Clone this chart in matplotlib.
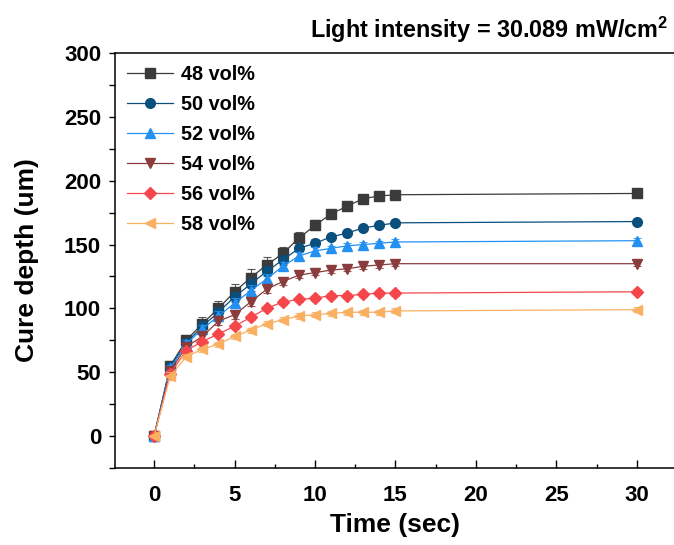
import matplotlib
matplotlib.use("Agg")
import matplotlib.pyplot as plt
from matplotlib.ticker import MultipleLocator

plt.rcParams['font.family'] = ['Liberation Sans', 'DejaVu Sans']
plt.rcParams['mathtext.fontset'] = 'custom'
plt.rcParams['mathtext.rm'] = 'Liberation Sans:bold'
plt.rcParams['mathtext.bf'] = 'Liberation Sans:bold'

time_s = [0, 1, 2, 3, 4, 5, 6, 7, 8, 9, 10, 11, 12, 13, 14, 15, 30]
labels = ["48 vol%", "50 vol%", "52 vol%", "54 vol%", "56 vol%", "58 vol%"]
depth_48 = [0, 55, 75, 88, 100, 113, 124, 134, 143, 155, 165, 174, 180, 186, 188, 189, 190]
depth_50 = [0, 54, 73, 86, 97, 109, 119, 129, 138, 147, 151, 156, 159, 163, 165, 167, 168]
depth_52 = [0, 53, 72, 84, 94, 104, 114, 123, 133, 141, 145, 147, 149, 150, 151, 152, 153]
depth_54 = [0, 51, 70, 78, 90, 95, 105, 115, 121, 126, 128, 130, 131, 133, 134, 135, 135]
depth_56 = [0, 49, 67, 74, 80, 86, 93, 100, 105, 107, 108, 110, 110, 111, 112, 112, 113]
depth_58 = [0, 47, 62, 68, 72, 78, 83, 88, 91, 94, 95, 96, 97, 97, 97, 98, 99]
err_48 = [0, 4, 4, 5, 6, 6, 7, 6, 5, 5, 4, 3, 2, 2, 2, 2, 2]
err_50 = [0, 3, 3, 4, 4, 4, 5, 4, 4, 3, 3, 2, 2, 2, 2, 2, 2]
err_52 = [0, 3, 3, 3, 4, 4, 4, 4, 3, 3, 3, 2, 2, 2, 2, 2, 2]
err_54 = [0, 3, 3, 3, 3, 3, 3, 3, 3, 2, 2, 2, 2, 2, 2, 2, 2]
err_56 = [0, 3, 2, 2, 2, 2, 2, 2, 2, 2, 2, 2, 2, 2, 2, 2, 2]
err_58 = [0, 3, 2, 2, 2, 2, 2, 2, 2, 2, 2, 2, 2, 2, 2, 2, 2]

series = [depth_48, depth_50, depth_52, depth_54, depth_56, depth_58]
errors = [err_48, err_50, err_52, err_54, err_56, err_58]
colors = ["#3b3b3b", "#0b4f7c", "#2291f2", "#8a3c3c", "#f5474b", "#f9b062"]
markers = ["s", "o", "^", "v", "D", "<"]
msizes = [6.5, 7, 7, 7, 6, 7]

fig = plt.figure(figsize=(6.74, 5.45), dpi=100)
ax = fig.add_axes([115/674, 1 - 468/545, 1.0 - 115/674 + 0.002, (468 - 53)/545])

for y, e, c, m, ms, lab in zip(series, errors, colors, markers, msizes, labels):
    ax.errorbar(time_s, y, yerr=e, color=c, fmt='none',
                elinewidth=0.8, capsize=3, capthick=0.8, alpha=0.85)
    ax.plot(time_s, y, color=c, marker=m, markersize=ms, linewidth=0.9, label=lab)

ax.set_xlim(-2.43, 32.4)
ax.set_ylim(-25, 300)
ax.xaxis.set_major_locator(MultipleLocator(5))
ax.xaxis.set_minor_locator(MultipleLocator(2.5))
ax.yaxis.set_major_locator(MultipleLocator(50))
ax.yaxis.set_minor_locator(MultipleLocator(25))

ax.tick_params(axis='x', which='major', direction='in', length=6, width=1, pad=12, labelsize=16)
ax.tick_params(axis='x', which='minor', direction='in', length=3, width=1)
ax.tick_params(axis='y', which='major', direction='out', length=4, width=1, pad=6, labelsize=16)
ax.tick_params(axis='y', which='minor', direction='out', length=4, width=1)
for lbl in ax.get_xticklabels() + ax.get_yticklabels():
    lbl.set_fontweight('bold')
for sp in ax.spines.values():
    sp.set_linewidth(1.1)
ax.spines['right'].set_visible(False)

ax.set_xlabel("Time (sec)", fontsize=19, fontweight='bold', labelpad=5)
ax.set_ylabel("Cure depth (um)", fontsize=19, fontweight='bold', labelpad=18)

fig.text(668/674, 1 - 38/545, r"Light intensity = 30.089 mW/cm$^{\mathbf{2}}$",
         ha='right', va='baseline', fontsize=16.8, fontweight='bold')

leg = ax.legend(loc='upper left', bbox_to_anchor=(0.0, 1.0), frameon=False,
                fontsize=14.3, handlelength=2.3, handletextpad=0.4,
                labelspacing=0.55, borderaxespad=0.1, borderpad=0.5)
for t in leg.get_texts():
    t.set_fontweight('bold')

fig.savefig("out.png", dpi=100)
